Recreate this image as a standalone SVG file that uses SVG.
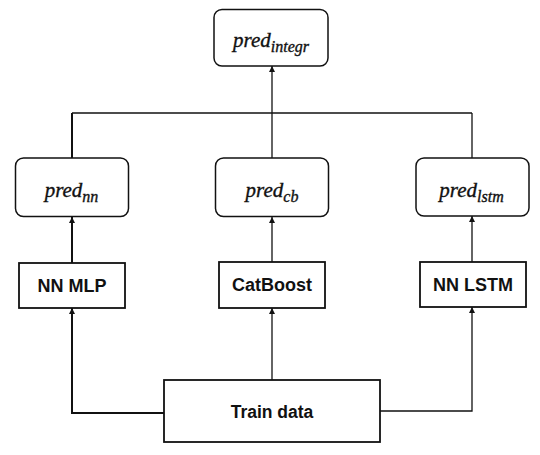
<svg xmlns="http://www.w3.org/2000/svg" width="540" height="455" viewBox="0 0 540 455">
  <defs>
    <marker id="arr" viewBox="0 0 10 10" refX="10" refY="5" markerWidth="6" markerHeight="6" markerUnits="userSpaceOnUse" orient="auto">
      <path d="M0,0 L10,5 L0,10 z" fill="#111"/>
    </marker>
    <style>
      .rbox { fill: #fff; stroke: #111; stroke-width: 1.5; }
      .box { fill: #fff; stroke: #111; stroke-width: 1.8; }
      .ln { fill: none; stroke: #111; stroke-width: 1.3; }
      .thick { stroke-width: 2; }
      .it { font-family: "Liberation Serif", "Times New Roman", serif; font-style: italic; font-size: 21px; fill: #111; stroke: #111; stroke-width: 0.35; }
      .sub { font-size: 16px; }
      .lbl { font-family: "Liberation Sans", Arial, sans-serif; font-weight: bold; font-size: 18px; fill: #111; }
    </style>
  </defs>
  <rect width="540" height="455" fill="#fff"/>

  <g id="connectors">
    <path class="ln" d="M72,113 H472"/>
    <path class="ln thick" d="M72,158 V113"/>
    <path class="ln" d="M472,158 V113"/>
    <path class="ln" d="M272,158 V66" marker-end="url(#arr)"/>
    <path class="ln thick" d="M72,263 V217" marker-end="url(#arr)"/>
    <path class="ln" d="M272,262 V217" marker-end="url(#arr)"/>
    <path class="ln" d="M472,262 V216" marker-end="url(#arr)"/>
    <path class="ln thick" d="M164,413 H72 V308" marker-end="url(#arr)"/>
    <path class="ln" d="M272,380 V308" marker-end="url(#arr)"/>
    <path class="ln" d="M380,411 H472 V307" marker-end="url(#arr)"/>
  </g>

  <g id="pred_integr">
    <rect class="rbox" x="214" y="9.5" width="114" height="56.5" rx="8"/>
    <text class="it" x="271" y="47" text-anchor="middle">pred<tspan class="sub" dy="5">integr</tspan></text>
  </g>
  <g id="pred_nn">
    <rect class="rbox" x="15.5" y="158" width="113" height="58.5" rx="8"/>
    <text class="it" x="71.5" y="197" text-anchor="middle">pred<tspan class="sub" dy="5">nn</tspan></text>
  </g>
  <g id="pred_cb">
    <rect class="rbox" x="215.5" y="158" width="113" height="58.5" rx="8"/>
    <text class="it" x="272" y="197" text-anchor="middle">pred<tspan class="sub" dy="5">cb</tspan></text>
  </g>
  <g id="pred_lstm">
    <rect class="rbox" x="416" y="158" width="113" height="58" rx="8"/>
    <text class="it" x="471.5" y="197" text-anchor="middle">pred<tspan class="sub" dy="5">lstm</tspan></text>
  </g>

  <g id="nn_mlp">
    <rect class="box" x="19" y="263" width="106" height="45"/>
    <text class="lbl" x="72" y="291.5" text-anchor="middle">NN MLP</text>
  </g>
  <g id="catboost">
    <rect class="box" x="219" y="262" width="106" height="46"/>
    <text class="lbl" x="272" y="291" text-anchor="middle">CatBoost</text>
  </g>
  <g id="nn_lstm">
    <rect class="box" x="420" y="262" width="106" height="45"/>
    <text class="lbl" x="473" y="290.5" text-anchor="middle">NN LSTM</text>
  </g>
  <g id="train_data">
    <rect class="box" x="164" y="380" width="216" height="62"/>
    <text class="lbl" x="272" y="417.5" text-anchor="middle" style="font-size:17.5px">Train data</text>
  </g>
</svg>
